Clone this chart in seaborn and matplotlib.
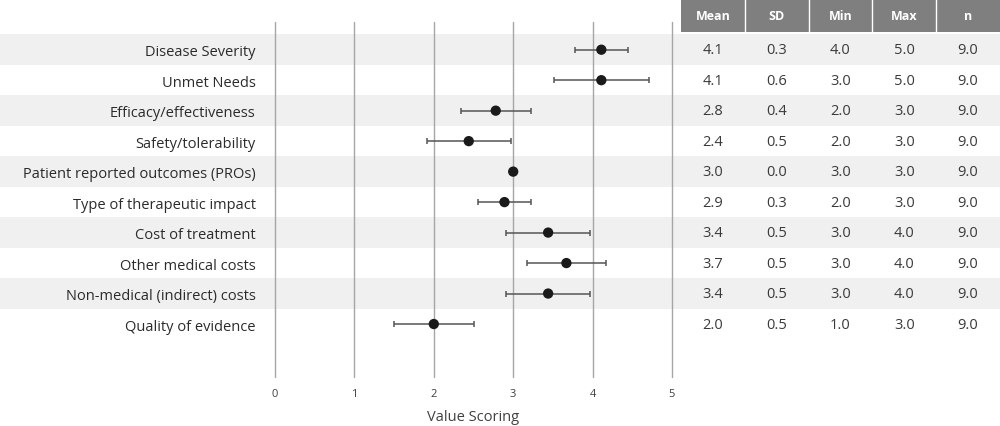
import seaborn as sns
import matplotlib.pyplot as plt
import pandas as pd

# criteria shown on the left, top to bottom
criteria = [
    'Disease Severity',
    'Unmet Needs',
    'Efficacy/effectiveness',
    'Safety/tolerability',
    'Patient reported outcomes (PROs)',
    'Type of therapeutic impact',
    'Cost of treatment',
    'Other medical costs',
    'Non-medical (indirect) costs',
    'Quality of evidence',
]

# point positions and error bar half-widths
point_mean = [4.11, 4.11, 2.78, 2.44, 3.00, 2.89, 3.44, 3.67, 3.44, 2.00]
point_sd = [0.33, 0.60, 0.44, 0.53, 0.00, 0.33, 0.53, 0.50, 0.53, 0.50]

# table columns
table_cols = ['Mean', 'SD', 'Min', 'Max', 'n']
mean_vals = [4.1, 4.1, 2.8, 2.4, 3.0, 2.9, 3.4, 3.7, 3.4, 2.0]
sd_vals = [0.3, 0.6, 0.4, 0.5, 0.0, 0.3, 0.5, 0.5, 0.5, 0.5]
min_vals = [4.0, 3.0, 2.0, 2.0, 3.0, 2.0, 3.0, 3.0, 3.0, 1.0]
max_vals = [5.0, 5.0, 3.0, 3.0, 3.0, 3.0, 4.0, 4.0, 4.0, 3.0]
n_vals = [9.0] * 10

x_ticks = [0, 1, 2, 3, 4, 5]
x_label = 'Value Scoring'

df = pd.DataFrame({'criterion': criteria, 'mean': point_mean, 'sd': point_sd})
df['row'] = range(len(df))

sns.set_theme(style='white')
plt.rcParams['font.family'] = ['Open Sans', 'DejaVu Sans']

W, H = 1000, 427
fig = plt.figure(figsize=(W / 100, H / 100), dpi=100)

# pixel layout
plot_left, plot_right = 275, 672
grid_top, grid_bottom = 23, 378
row0_y, row_step = 50.7, 30.48
band_color = '#f0f0f0'
grid_color = '#a6a6a6'

y_top = -(row0_y - grid_top) / row_step
y_bottom = (grid_bottom - row0_y) / row_step

ax = fig.add_axes([plot_left / W, (H - grid_bottom) / H,
                   (plot_right - plot_left) / W, (grid_bottom - grid_top) / H])
ax.set_xlim(x_ticks[0], x_ticks[-1])
ax.set_ylim(y_bottom, y_top)
for s in ax.spines.values():
    s.set_visible(False)

# alternating row bands across the whole figure
ax_w = plot_right - plot_left
for i in range(0, len(criteria), 2):
    band = ax.axhspan(i - 0.5, i + 0.5, xmin=-plot_left / ax_w,
                      xmax=(W - plot_left) / ax_w, color=band_color,
                      lw=0, zorder=0)
    band.set_clip_on(False)

for t in x_ticks:
    ax.axvline(t, color=grid_color, lw=1, zorder=1, clip_on=False)

ax.errorbar(df['mean'], df['row'], xerr=df['sd'], fmt='none',
            ecolor='#555555', elinewidth=1.1, capsize=2.5, capthick=1.1,
            zorder=2)
sns.scatterplot(data=df, x='mean', y='row', ax=ax, color='#1a1a1a',
                s=55, edgecolor='none', zorder=3, legend=False)

ax.set_yticks(df['row'])
ax.set_yticklabels(criteria, fontsize=10.5, color='#2b2b2b')
ax.tick_params(axis='y', length=0, pad=14)
ax.set_xticks(x_ticks)
ax.set_xticklabels([str(t) for t in x_ticks], fontsize=8, color='#404040')
ax.tick_params(axis='x', length=0, pad=8)
ax.set_xlabel(x_label, fontsize=10.5, color='#404040', labelpad=7)
ax.set_ylabel('')

# table on the right
tab_left = 681
tax = fig.add_axes([tab_left / W, (H - grid_bottom) / H,
                    (W - tab_left) / W, grid_bottom / H])
tax.set_xlim(0, len(table_cols))
tax.set_ylim(y_bottom, y_top - grid_top / row_step)
tax.axis('off')
tax.patch.set_alpha(0)

tax.axhspan(y_top - grid_top / row_step, -0.58, color='#7f7f7f', lw=0)
for j in range(1, len(table_cols)):
    tax.plot([j, j], [y_top - grid_top / row_step, -0.58], color='white',
             lw=1)
for j, name in enumerate(table_cols):
    tax.text(j + 0.5, -1.12, name, ha='center', va='center', color='white',
             fontsize=9, fontweight='bold')

columns = [mean_vals, sd_vals, min_vals, max_vals, n_vals]
for j, vals in enumerate(columns):
    for i, v in enumerate(vals):
        tax.text(j + 0.5, i, f'{v:.1f}', ha='center', va='center',
                 color='#3a3a3a', fontsize=10.5)

fig.savefig('out.png', dpi=100)
